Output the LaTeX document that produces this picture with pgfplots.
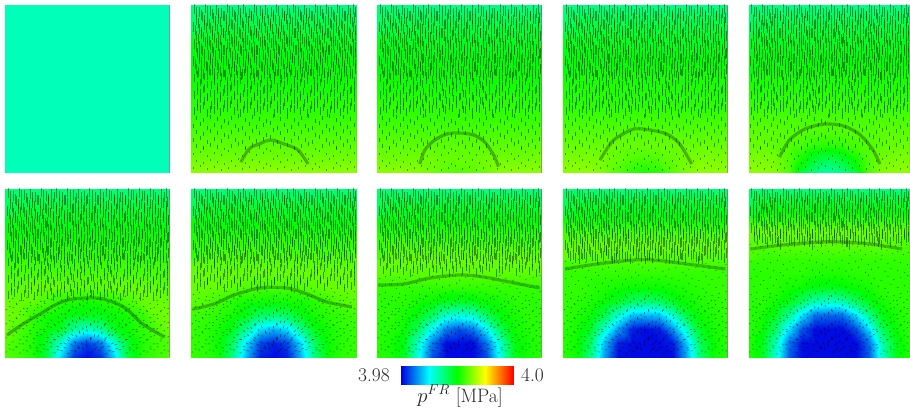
\documentclass[border=0pt]{standalone}
\usepackage{pgfplots}
\usepackage{pgfplotstable}
\pgfplotsset{compat=1.18}
\pgfplotsset{
 colormap={fr}{rgb255(0)=(0,0,225) rgb255(25)=(0,255,255) rgb255(50)=(0,255,0) rgb255(75)=(255,255,0) rgb255(100)=(255,0,0)},
 panelstyle/.style={scale only axis,hide axis,height=168bp,xmin=0,xmax=165,ymin=0,ymax=168,clip marker paths=true,
   point meta min=0,point meta max=100,anchor=south west,colormap name=fr},
}
% long ticks
\pgfplotstableread[row sep=\\]{
x y\\
3 164\\ 8 161\\ 14 165\\ 19 162\\ 25 163\\ 30 160\\ 36 165\\ 41 161\\ 47 163\\ 52 164\\ 58 160\\ 63 165\\ 69 162\\ 74 163\\ 80 161\\ 85 165\\ 91 160\\ 96 163\\ 102 165\\ 107 161\\ 113 163\\ 118 160\\ 124 165\\ 129 162\\ 135 164\\ 140 161\\ 146 165\\ 151 160\\ 157 163\\ 162 164\\
5 153\\ 11 156\\ 16 152\\ 22 155\\ 27 154\\ 33 157\\ 38 152\\ 44 156\\ 49 153\\ 55 155\\ 60 157\\ 66 152\\ 71 155\\ 77 153\\ 82 156\\ 88 152\\ 93 157\\ 99 154\\ 104 152\\ 110 156\\ 115 154\\ 121 157\\ 126 152\\ 132 155\\ 137 153\\ 143 156\\ 148 152\\ 154 157\\ 159 154\\ 163 155\\
2 146\\ 8 144\\ 13 148\\ 19 145\\ 24 147\\ 30 143\\ 35 146\\ 41 148\\ 46 144\\ 52 147\\ 57 145\\ 63 143\\ 68 148\\ 74 145\\ 79 147\\ 85 144\\ 90 146\\ 96 148\\ 101 143\\ 107 146\\ 112 148\\ 118 144\\ 123 147\\ 129 145\\ 134 143\\ 140 148\\ 145 145\\ 151 147\\ 156 144\\ 162 146\\
5 137\\ 10 139\\ 16 135\\ 21 138\\ 27 136\\ 32 140\\ 38 137\\ 43 135\\ 49 139\\ 54 136\\ 60 138\\ 65 140\\ 71 135\\ 76 138\\ 82 136\\ 87 139\\ 93 137\\ 98 135\\ 104 140\\ 109 137\\ 115 135\\ 120 139\\ 126 136\\ 131 138\\ 137 140\\ 142 135\\ 148 138\\ 153 136\\ 159 139\\ 164 137\\
3 129\\ 8 127\\ 14 131\\ 19 128\\ 25 130\\ 30 126\\ 36 129\\ 41 131\\ 47 127\\ 52 130\\ 58 128\\ 63 126\\ 69 131\\ 74 128\\ 80 130\\ 85 127\\ 91 129\\ 96 131\\ 102 126\\ 107 129\\ 113 131\\ 118 127\\ 124 130\\ 129 128\\ 135 126\\ 140 131\\ 146 128\\ 151 130\\ 157 127\\ 162 129\\
6 120\\ 11 122\\ 17 118\\ 22 121\\ 28 119\\ 33 123\\ 39 120\\ 44 118\\ 50 122\\ 55 119\\ 61 121\\ 66 123\\ 72 118\\ 77 121\\ 83 119\\ 88 122\\ 94 120\\ 99 118\\ 105 123\\ 110 120\\ 116 118\\ 121 122\\ 127 119\\ 132 121\\ 138 123\\ 143 118\\ 149 121\\ 154 119\\ 160 122\\ 164 120\\
2 112\\ 8 114\\ 13 110\\ 19 113\\ 24 111\\ 30 115\\ 35 112\\ 41 110\\ 46 114\\ 52 111\\ 57 113\\ 63 115\\ 68 110\\ 74 113\\ 79 111\\ 85 114\\ 90 112\\ 96 110\\ 101 115\\ 107 112\\ 112 110\\ 118 114\\ 123 111\\ 129 113\\ 134 115\\ 140 110\\ 145 113\\ 151 111\\ 156 114\\ 162 112\\
5 104\\ 10 102\\ 16 106\\ 21 103\\ 27 105\\ 32 101\\ 38 104\\ 43 106\\ 49 102\\ 54 105\\ 60 103\\ 65 101\\ 71 106\\ 76 103\\ 82 105\\ 87 102\\ 93 104\\ 98 106\\ 104 101\\ 109 104\\ 115 106\\ 120 102\\ 126 105\\ 131 103\\ 137 101\\ 142 106\\ 148 103\\ 153 105\\ 159 102\\ 164 104\\
}\tA
% medium ticks
\pgfplotstableread[row sep=\\]{
x y\\
3 95\\ 10 93\\ 16 97\\ 23 94\\ 30 96\\ 36 92\\ 43 95\\ 50 97\\ 56 93\\ 63 96\\ 70 94\\ 76 92\\ 83 97\\ 90 94\\ 96 96\\ 103 93\\ 110 95\\ 116 97\\ 123 92\\ 130 95\\ 136 97\\ 143 93\\ 150 96\\ 156 94\\ 163 92\\
6 87\\ 13 85\\ 20 88\\ 26 86\\ 33 84\\ 40 87\\ 46 89\\ 53 85\\ 60 88\\ 66 86\\ 73 84\\ 80 89\\ 86 86\\ 93 88\\ 100 85\\ 106 87\\ 113 89\\ 120 84\\ 126 87\\ 133 89\\ 140 85\\ 146 88\\ 153 86\\ 160 84\\
3 78\\ 9 80\\ 16 76\\ 23 79\\ 29 77\\ 36 81\\ 43 78\\ 49 76\\ 56 80\\ 63 77\\ 69 79\\ 76 81\\ 83 76\\ 89 79\\ 96 77\\ 103 80\\ 109 78\\ 116 76\\ 123 81\\ 129 78\\ 136 76\\ 143 80\\ 149 77\\ 156 79\\ 163 81\\
6 70\\ 13 72\\ 20 68\\ 26 71\\ 33 69\\ 40 73\\ 46 70\\ 53 68\\ 60 72\\ 66 69\\ 73 71\\ 80 73\\ 86 68\\ 93 71\\ 100 69\\ 106 72\\ 113 70\\ 120 68\\ 126 73\\ 133 70\\ 140 68\\ 146 72\\ 153 69\\ 160 71\\
3 62\\ 9 64\\ 16 60\\ 23 63\\ 29 61\\ 36 65\\ 43 62\\ 49 60\\ 56 64\\ 63 61\\ 69 63\\ 76 65\\ 83 60\\ 89 63\\ 96 61\\ 103 64\\ 109 62\\ 116 60\\ 123 65\\ 129 62\\ 136 60\\ 143 64\\ 149 61\\ 156 63\\ 163 65\\
}\tB
% short ticks
\pgfplotstableread[row sep=\\]{
x y\\
5 55\\ 12 53\\ 19 56\\ 26 54\\ 33 52\\ 40 55\\ 47 57\\ 54 53\\ 61 56\\ 68 54\\ 75 52\\ 82 57\\ 89 54\\ 96 56\\ 103 53\\ 110 55\\ 117 57\\ 124 52\\ 131 55\\ 138 57\\ 145 53\\ 152 56\\ 159 54\\
2 47\\ 9 49\\ 16 45\\ 23 48\\ 30 46\\ 37 50\\ 44 47\\ 51 45\\ 58 49\\ 65 46\\ 72 48\\ 79 50\\ 86 45\\ 93 48\\ 100 46\\ 107 49\\ 114 47\\ 121 45\\ 128 50\\ 135 47\\ 142 45\\ 149 49\\ 156 46\\ 163 48\\
5 41\\ 12 39\\ 19 42\\ 26 40\\ 33 38\\ 40 41\\ 47 43\\ 54 39\\ 61 42\\ 68 40\\ 75 38\\ 82 43\\ 89 40\\ 96 42\\ 103 39\\ 110 41\\ 117 43\\ 124 38\\ 131 41\\ 138 43\\ 145 39\\ 152 42\\ 159 40\\
2 33\\ 9 35\\ 16 31\\ 23 34\\ 30 32\\ 37 36\\ 44 33\\ 51 31\\ 58 35\\ 65 32\\ 72 34\\ 79 36\\ 86 31\\ 93 34\\ 100 32\\ 107 35\\ 114 33\\ 121 31\\ 128 36\\ 135 33\\ 142 31\\ 149 35\\ 156 32\\ 163 34\\
5 27\\ 12 25\\ 19 28\\ 26 26\\ 33 24\\ 40 27\\ 47 29\\ 54 25\\ 61 28\\ 68 26\\ 75 24\\ 82 29\\ 89 26\\ 96 28\\ 103 25\\ 110 27\\ 117 29\\ 124 24\\ 131 27\\ 138 29\\ 145 25\\ 152 28\\ 159 26\\
2 19\\ 9 21\\ 16 17\\ 23 20\\ 30 18\\ 37 22\\ 44 19\\ 51 17\\ 58 21\\ 65 18\\ 72 20\\ 79 22\\ 86 17\\ 93 20\\ 100 18\\ 107 21\\ 114 19\\ 121 17\\ 128 22\\ 135 19\\ 142 17\\ 149 21\\ 156 18\\ 163 20\\
5 12\\ 12 10\\ 19 13\\ 26 11\\ 33 9\\ 40 12\\ 47 14\\ 54 10\\ 61 13\\ 68 11\\ 75 9\\ 82 14\\ 89 11\\ 96 13\\ 103 10\\ 110 12\\ 117 14\\ 124 9\\ 131 12\\ 138 14\\ 145 10\\ 152 13\\ 159 11\\
2 5\\ 9 7\\ 16 4\\ 23 6\\ 30 3\\ 37 5\\ 44 7\\ 51 4\\ 58 6\\ 65 3\\ 72 5\\ 79 7\\ 86 4\\ 93 6\\ 100 3\\ 107 5\\ 114 7\\ 121 4\\ 128 6\\ 135 3\\ 142 5\\ 149 7\\ 156 4\\ 163 6\\
}\tC
% colour fields: 13 values per line, bottom line first, 0 = 3.98 MPa, 100 = 4.0 MPa
\pgfplotstableread[row sep=\\,header=false]{
64\\64\\64\\64\\64\\64\\64\\64\\64\\64\\64\\64\\64\\
61\\61\\61\\61\\61\\61\\61\\61\\61\\61\\61\\61\\61\\
59\\59\\59\\59\\59\\59\\59\\59\\59\\59\\59\\59\\59\\
57\\57\\57\\57\\57\\57\\57\\57\\57\\57\\57\\57\\57\\
55\\55\\55\\55\\55\\55\\55\\55\\55\\55\\55\\55\\55\\
54\\54\\54\\54\\54\\54\\54\\54\\54\\54\\54\\54\\54\\
52\\52\\52\\52\\52\\52\\52\\52\\52\\52\\52\\52\\52\\
51\\51\\51\\51\\51\\51\\51\\51\\51\\51\\51\\51\\51\\
50\\50\\50\\50\\50\\50\\50\\50\\50\\50\\50\\50\\50\\
48\\48\\48\\48\\48\\48\\48\\48\\48\\48\\48\\48\\48\\
45\\45\\45\\45\\45\\45\\45\\45\\45\\45\\45\\45\\45\\
42\\42\\42\\42\\42\\42\\42\\42\\42\\42\\42\\42\\42\\
37\\37\\37\\37\\37\\37\\37\\37\\37\\37\\37\\37\\37\\
}\pB
\pgfplotstableread[row sep=\\,header=false]{
64\\64\\64\\63\\61\\59\\58\\59\\61\\63\\64\\64\\64\\
61\\61\\61\\61\\61\\60\\60\\60\\61\\61\\61\\61\\61\\
59\\59\\59\\59\\59\\59\\59\\59\\59\\59\\59\\59\\59\\
57\\57\\57\\57\\57\\57\\57\\57\\57\\57\\57\\57\\57\\
55\\55\\55\\55\\55\\55\\55\\55\\55\\55\\55\\55\\55\\
54\\54\\54\\54\\54\\54\\54\\54\\54\\54\\54\\54\\54\\
52\\52\\52\\52\\52\\52\\52\\52\\52\\52\\52\\52\\52\\
51\\51\\51\\51\\51\\51\\51\\51\\51\\51\\51\\51\\51\\
50\\50\\50\\50\\50\\50\\50\\50\\50\\50\\50\\50\\50\\
48\\48\\48\\48\\48\\48\\48\\48\\48\\48\\48\\48\\48\\
45\\45\\45\\45\\45\\45\\45\\45\\45\\45\\45\\45\\45\\
42\\42\\42\\42\\42\\42\\42\\42\\42\\42\\42\\42\\42\\
37\\37\\37\\37\\37\\37\\37\\37\\37\\37\\37\\37\\37\\
}\pC
\pgfplotstableread[row sep=\\,header=false]{
64\\64\\64\\62\\58\\54\\52\\54\\58\\62\\64\\64\\64\\
62\\62\\62\\61\\60\\58\\57\\58\\60\\61\\62\\62\\62\\
60\\60\\60\\60\\60\\60\\60\\60\\60\\60\\60\\60\\60\\
58\\58\\58\\58\\58\\58\\58\\58\\58\\58\\58\\58\\58\\
56\\56\\56\\56\\56\\56\\56\\56\\56\\56\\56\\56\\56\\
54\\54\\54\\54\\54\\54\\54\\54\\54\\54\\54\\54\\54\\
53\\53\\53\\53\\53\\53\\53\\53\\53\\53\\53\\53\\53\\
52\\52\\52\\52\\52\\52\\52\\52\\52\\52\\52\\52\\52\\
50\\50\\50\\50\\50\\50\\50\\50\\50\\50\\50\\50\\50\\
48\\48\\48\\48\\48\\48\\48\\48\\48\\48\\48\\48\\48\\
45\\45\\45\\45\\45\\45\\45\\45\\45\\45\\45\\45\\45\\
42\\42\\42\\42\\42\\42\\42\\42\\42\\42\\42\\42\\42\\
37\\37\\37\\37\\37\\37\\37\\37\\37\\37\\37\\37\\37\\
}\pD
\pgfplotstableread[row sep=\\,header=false]{
64\\64\\63\\58\\45\\37\\33\\37\\45\\58\\63\\64\\64\\
62\\62\\61\\58\\52\\45\\42\\45\\52\\58\\61\\62\\62\\
60\\60\\59\\58\\57\\55\\54\\55\\57\\58\\59\\60\\60\\
59\\59\\59\\58\\58\\58\\58\\58\\58\\58\\59\\59\\59\\
57\\57\\57\\57\\57\\57\\57\\57\\57\\57\\57\\57\\57\\
55\\55\\55\\55\\55\\55\\55\\55\\55\\55\\55\\55\\55\\
53\\53\\53\\53\\53\\53\\53\\53\\53\\53\\53\\53\\53\\
52\\52\\52\\52\\52\\52\\52\\52\\52\\52\\52\\52\\52\\
50\\50\\50\\50\\50\\50\\50\\50\\50\\50\\50\\50\\50\\
48\\48\\48\\48\\48\\48\\48\\48\\48\\48\\48\\48\\48\\
45\\45\\45\\45\\45\\45\\45\\45\\45\\45\\45\\45\\45\\
42\\42\\42\\42\\42\\42\\42\\42\\42\\42\\42\\42\\42\\
37\\37\\37\\37\\37\\37\\37\\37\\37\\37\\37\\37\\37\\
}\pE
\pgfplotstableread[row sep=\\,header=false]{
58\\56\\53\\45\\22\\5\\1\\5\\22\\45\\53\\56\\58\\
58\\56\\53\\46\\30\\12\\6\\12\\30\\46\\53\\56\\58\\
61\\57\\54\\51\\47\\35\\30\\35\\47\\51\\54\\57\\61\\
61\\60\\55\\52\\51\\48\\48\\48\\51\\52\\55\\60\\61\\
60\\60\\60\\57\\54\\53\\52\\53\\54\\57\\60\\60\\60\\
58\\59\\60\\60\\60\\59\\59\\59\\60\\60\\60\\59\\58\\
57\\57\\57\\57\\57\\57\\57\\57\\57\\57\\57\\57\\57\\
55\\55\\55\\55\\55\\55\\55\\55\\55\\55\\55\\55\\55\\
53\\53\\53\\53\\53\\53\\53\\53\\53\\53\\53\\53\\53\\
50\\50\\50\\50\\50\\50\\50\\50\\50\\50\\50\\50\\50\\
47\\47\\47\\47\\47\\47\\47\\47\\47\\47\\47\\47\\47\\
43\\43\\43\\43\\43\\43\\43\\43\\43\\43\\43\\43\\43\\
38\\38\\38\\38\\38\\38\\38\\38\\38\\38\\38\\38\\38\\
}\pF
\pgfplotstableread[row sep=\\,header=false]{
55\\54\\51\\38\\18\\3\\1\\3\\18\\38\\51\\54\\55\\
55\\54\\51\\41\\22\\7\\3\\7\\22\\41\\51\\54\\55\\
55\\54\\52\\48\\36\\22\\18\\22\\36\\48\\52\\54\\55\\
56\\55\\54\\52\\48\\41\\39\\41\\48\\52\\54\\55\\56\\
59\\58\\56\\54\\52\\52\\51\\52\\52\\54\\56\\58\\59\\
60\\60\\60\\59\\58\\57\\57\\57\\58\\59\\60\\60\\60\\
60\\60\\60\\60\\60\\60\\60\\60\\60\\60\\60\\60\\60\\
58\\58\\58\\58\\58\\58\\58\\58\\58\\58\\58\\58\\58\\
55\\55\\55\\55\\55\\55\\55\\55\\55\\55\\55\\55\\55\\
52\\52\\52\\52\\52\\52\\52\\52\\52\\52\\52\\52\\52\\
48\\48\\48\\48\\48\\48\\48\\48\\48\\48\\48\\48\\48\\
44\\44\\44\\44\\44\\44\\44\\44\\44\\44\\44\\44\\44\\
38\\38\\38\\38\\38\\38\\38\\38\\38\\38\\38\\38\\38\\
}\pG
\pgfplotstableread[row sep=\\,header=false]{
54\\52\\47\\27\\8\\1\\1\\1\\8\\27\\47\\52\\54\\
54\\52\\48\\30\\12\\1\\1\\1\\12\\30\\48\\52\\54\\
54\\53\\51\\41\\25\\12\\8\\12\\25\\41\\51\\53\\54\\
54\\54\\52\\49\\41\\30\\28\\30\\41\\49\\52\\54\\54\\
54\\54\\54\\52\\51\\48\\47\\48\\51\\52\\54\\54\\54\\
55\\55\\55\\55\\55\\55\\55\\55\\55\\55\\55\\55\\55\\
59\\59\\59\\59\\59\\59\\59\\59\\59\\59\\59\\59\\59\\
60\\60\\60\\60\\60\\60\\60\\60\\60\\60\\60\\60\\60\\
57\\57\\57\\57\\57\\57\\57\\57\\57\\57\\57\\57\\57\\
53\\53\\53\\53\\53\\53\\53\\53\\53\\53\\53\\53\\53\\
49\\49\\49\\49\\49\\49\\49\\49\\49\\49\\49\\49\\49\\
44\\44\\44\\44\\44\\44\\44\\44\\44\\44\\44\\44\\44\\
38\\38\\38\\38\\38\\38\\38\\38\\38\\38\\38\\38\\38\\
}\pH
\pgfplotstableread[row sep=\\,header=false]{
54\\51\\38\\16\\1\\1\\1\\1\\1\\16\\38\\51\\54\\
54\\51\\41\\19\\3\\1\\1\\1\\3\\19\\41\\51\\54\\
54\\52\\47\\30\\15\\3\\1\\3\\15\\30\\47\\52\\54\\
55\\53\\51\\43\\30\\19\\18\\19\\30\\43\\51\\53\\55\\
55\\54\\53\\51\\47\\41\\39\\41\\47\\51\\53\\54\\55\\
55\\55\\54\\53\\52\\51\\51\\51\\52\\53\\54\\55\\55\\
55\\55\\55\\55\\55\\55\\55\\55\\55\\55\\55\\55\\55\\
57\\58\\58\\58\\58\\58\\58\\58\\58\\58\\58\\58\\57\\
60\\60\\60\\60\\60\\60\\60\\60\\60\\60\\60\\60\\60\\
56\\56\\56\\56\\56\\56\\56\\56\\56\\56\\56\\56\\56\\
50\\50\\50\\50\\50\\50\\50\\50\\50\\50\\50\\50\\50\\
45\\45\\45\\45\\45\\45\\45\\45\\45\\45\\45\\45\\45\\
38\\38\\38\\38\\38\\38\\38\\38\\38\\38\\38\\38\\38\\
}\pI
\pgfplotstableread[row sep=\\,header=false]{
53\\48\\30\\9\\1\\1\\1\\1\\1\\9\\30\\48\\53\\
53\\48\\33\\11\\1\\1\\1\\1\\1\\11\\33\\48\\53\\
54\\51\\41\\22\\8\\1\\1\\1\\8\\22\\41\\51\\54\\
54\\52\\48\\36\\22\\11\\10\\11\\22\\36\\48\\52\\54\\
54\\54\\52\\48\\41\\33\\31\\33\\41\\48\\52\\54\\54\\
54\\54\\54\\52\\51\\49\\48\\49\\51\\52\\54\\54\\54\\
54\\54\\54\\54\\54\\53\\53\\53\\54\\54\\54\\54\\54\\
55\\55\\55\\55\\55\\55\\55\\55\\55\\55\\55\\55\\55\\
57\\58\\59\\59\\59\\59\\59\\59\\59\\59\\59\\58\\57\\
60\\60\\60\\60\\60\\60\\60\\60\\60\\60\\60\\60\\60\\
53\\53\\53\\53\\53\\53\\53\\53\\53\\53\\53\\53\\53\\
46\\46\\46\\46\\46\\46\\46\\46\\46\\46\\46\\46\\46\\
38\\38\\38\\38\\38\\38\\38\\38\\38\\38\\38\\38\\38\\
}\pJ
\newcommand\field[1]{\addplot[surf,shader=interp,mesh/cols=13,point meta=explicit]
  table[x index=0,y index=0,meta index=0,x expr={mod(\coordindex,13)*165/12},y expr={floor(\coordindex/13)*14}]{#1};}
\pgfplotsset{tk/.style={only marks,mark=|,black,opacity=.42,mark options={line width=.75bp}}}
\newcommand\ticks[1]{%
 \addplot[tk,mark size=4.8bp,restrict y to domain=#1:200] table[x=x,y=y]{\tA};
 \addplot[tk,mark size=4.6bp,xshift=2.7bp,yshift=-3bp,restrict y to domain=#1:200] table[x=x,y=y]{\tA};
 \addplot[tk,mark size=3.9bp,restrict y to domain=#1:200] table[x=x,y=y]{\tB};
 \addplot[tk,mark size=3.2bp,xshift=3.2bp,yshift=3.5bp,restrict y to domain=#1:200] table[x=x,y=y]{\tB};
 \addplot[tk,mark size=2.3bp,restrict y to domain=25:200,restrict y to domain=#1:200] table[x=x,y=y]{\tC};
 \ifnum#1<25 \addplot[tk,mark size=1.2bp,restrict y to domain=0:25] table[x=x,y=y]{\tC};\fi}
\newcommand\Rr{sqrt((\thisrow{x}-82)*(\thisrow{x}-82)+\thisrow{y}*\thisrow{y}+1)}
\pgfplotsset{rad/.style={black,opacity=.5,line width=.65bp,
  quiver={u={(\thisrow{x}-82)/\Rr*170/(\Rr+40)},v={\thisrow{y}/\Rr*170/(\Rr+40)}}}}
\newcommand\radial[1]{% ticks below the front point away from the well
 \addplot[rad,restrict y to domain=0:#1] table[x=x,y=y]{\tC};
 \addplot[rad,restrict y to domain=0:#1] table[x=x,y=y]{\tB};
 \addplot[rad,restrict y to domain=0:#1] table[x=x,y=y]{\tA};
 \addplot[rad,xshift=3.4bp,yshift=3bp,restrict y to domain=0:#1] table[x=x,y=y]{\tC};}
\newcommand\front[1]{\addplot[smooth,line width=3.2bp,color={rgb,255:red,20;green,70;blue,15},opacity=.5,dash pattern=on .7bp off .5bp] coordinates {#1};}
\newcommand\edge{\addplot[gray,line width=.8bp] coordinates {(165,0)(165,168)};}
\begin{document}
\begin{tikzpicture}[x=1bp,y=1bp]
\path[use as bounding box] (0,0) rectangle (910,408);
% panel 1
\begin{axis}[panelstyle,width=164.5bp,at={(5bp,235bp)}]
\addplot[surf,shader=flat,mesh/cols=2,point meta=explicit] table[meta=m] {
x y m
0 0 32
165 0 32
0 168 32
165 168 32
};
\edge
\end{axis}
% top row
\begin{axis}[panelstyle,width=165bp,at={(191bp,235bp)}]
\field{\pB}\ticks{0}\front{(50,11)(58,24)(68,29)(80,33)(93,29)(107,23)(117,9)}\edge
\end{axis}
\begin{axis}[panelstyle,width=164.5bp,at={(377bp,235bp)}]
\field{\pC}\ticks{0}\front{(43,9)(48,23)(58,33)(70,39)(82,40)(97,38)(108,31)(117,18)(122,6)}\edge
\end{axis}
\begin{axis}[panelstyle,width=164.5bp,at={(563bp,235bp)}]
\field{\pD}\ticks{0}\front{(37,13)(44,24)(52,34)(71,44)(87,43)(104,39)(117,29)(129,9)}\edge
\end{axis}
\begin{axis}[panelstyle,width=160.5bp,at={(748.5bp,235bp)}]
\field{\pE}\ticks{0}\front{(32,16)(42,33)(58,44)(78,49)(98,47)(115,38)(128,23)(135,9)}\edge
\end{axis}
% bottom row
\begin{axis}[panelstyle,width=164.5bp,at={(5bp,51bp)}]
\field{\pF}\ticks{59}\radial{59}\front{(2,22)(18,33)(35,43)(52,53)(68,58)(92,59)(108,55)(122,48)(138,33)(160,20)}\edge
\end{axis}
\begin{axis}[panelstyle,width=165bp,at={(191bp,51bp)}]
\field{\pG}\ticks{69}\radial{69}\front{(2,48)(23,53)(43,62)(69,69)(96,69)(116,63)(136,55)(161,50)}\edge
\end{axis}
\begin{axis}[panelstyle,width=164.5bp,at={(377bp,51bp)}]
\field{\pH}\ticks{82}\radial{82}\front{(1,72)(27,73)(53,79)(83,82)(107,80)(133,75)(163,69)}\edge
\end{axis}
\begin{axis}[panelstyle,width=164.5bp,at={(563bp,51bp)}]
\field{\pI}\ticks{97}\radial{97}\front{(2,88)(34,93)(71,97)(91,97)(124,93)(163,88)}\edge
\end{axis}
\begin{axis}[panelstyle,width=160.5bp,at={(748.5bp,51bp)}]
\field{\pJ}\ticks{115}\radial{115}\front{(2,108)(35,112)(75,115)(95,115)(125,113)(158,108)}\edge
\end{axis}
% colour bar
\begin{axis}[scale only axis,hide axis,width=112bp,height=18bp,at={(401bp,24bp)},anchor=south west,
  xmin=0,xmax=100,ymin=0,ymax=1,point meta min=0,point meta max=100,colormap name=fr]
\addplot[surf,shader=interp,mesh/cols=5,point meta=explicit] table[meta=m] {
x y m
0 0 0
25 0 25
50 0 50
75 0 75
100 0 100
0 1 0
25 1 25
50 1 50
75 1 75
100 1 100
};
\end{axis}
\node[anchor=east,inner sep=0pt,font=\fontsize{19.5}{22}\selectfont,text=black!85] at (390,33) {3.98};
\node[anchor=west,inner sep=0pt,font=\fontsize{19.5}{22}\selectfont,text=black!85] at (521,33) {4.0};
\node[anchor=center,inner sep=0pt,font=\fontsize{19.5}{22}\selectfont,text=black!85] at (460,12) {$p^{FR}$ [MPa]};
\end{tikzpicture}
\end{document}
